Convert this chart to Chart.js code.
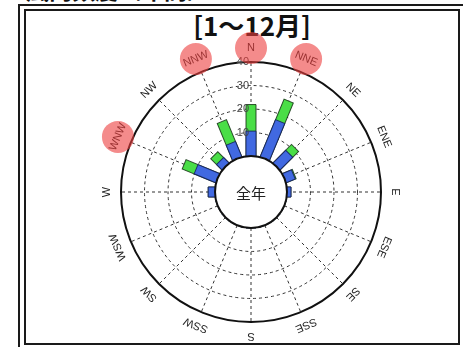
<!DOCTYPE html>
<html lang="ja">
<head>
<meta charset="utf-8">
<script src="https://cdn.jsdelivr.net/npm/chart.js@4/dist/chart.umd.min.js"></script>
<style>
  html, body { margin: 0; padding: 0; background: #fff; }
  body { width: 463px; height: 347px; overflow: hidden; position: relative;
         font-family: "Noto Sans CJK JP", sans-serif; }
  #heading { position: absolute; left: 26px; top: -23px; font-size: 23px; font-weight: bold;
             line-height: 24px; color: #111; white-space: nowrap; }
  #frameOuter { position: absolute; left: 18px; top: 4px; width: 520px; height: 420px;
                border: 2px solid #1a1a1a; }
  #frameInner { position: absolute; left: 24px; top: 9px; width: 436px; height: 336px;
                box-sizing: border-box; border: 2px solid #1a1a1a; }
  #title { position: absolute; left: 252px; top: 9px; transform: translateX(-50%);
           font-size: 26px; font-weight: bold; line-height: 32px; color: #111; white-space: nowrap; }
  #rose { position: absolute; left: 0; top: 0; z-index: 2; }
</style>
</head>
<body>
<div id="heading">風向頻度（年間）</div>
<div id="frameOuter"></div>
<div id="frameInner"></div>
<div id="title">[1～12月]</div>
<canvas id="rose" width="463" height="347"></canvas>
<script>
// 16-point compass, clockwise from north
const directions = ['N', 'NNE', 'NE', 'ENE', 'E', 'ESE', 'SE', 'SSE',
                    'S', 'SSW', 'SW', 'WSW', 'W', 'WNW', 'NW', 'NNW'];
// frequency by direction, inner (blue) and outer (green) segment of each bar
const speedLow  = [10.6, 17.1, 7.7, 4.2, 1.7, 0, 0, 0, 0, 0, 0, 0, 2.9, 10.0, 3.3, 7.1];
const speedHigh = [11.3,  9.5, 3.5, 0.4, 0,   0, 0, 0, 0, 0, 0, 0, 0,    5.5, 3.5, 10.0];
// ring values of the radial axis
const ringTicks = [10, 20, 30, 40];
// compass labels marked with a highlight disc
const highlighted = ['NNW', 'N', 'NNE', 'WNW'];
const hubLabel = '全年';

// cumulative top of each stacked bar
const stackTop = speedLow.map((v, i) => v + speedHigh[i]);

// A straight bar element: a fixed-width rectangle running out from the centre
// along the leading edge of the sector the polar-area controller lays out.
class RoseBar extends Chart.ArcElement {
  static id = 'roseBar';
  static defaults = { barWidth: 10 };
  draw(ctx) {
    const { x, y, startAngle, outerRadius } =
      this.getProps(['x', 'y', 'startAngle', 'outerRadius']);
    const o = this.options;
    if (!(outerRadius > 0)) return;
    const w = o.barWidth;
    ctx.save();
    ctx.translate(x, y);
    ctx.rotate(startAngle);
    ctx.beginPath();
    ctx.rect(0, -w / 2, outerRadius, w);
    ctx.fillStyle = o.backgroundColor;
    ctx.fill();
    if (o.borderWidth) {
      ctx.lineWidth = o.borderWidth;
      ctx.strokeStyle = o.borderColor;
      ctx.stroke();
    }
    ctx.restore();
  }
}
Chart.register(RoseBar);
Chart.defaults.datasets.polarArea.dataElementType = 'roseBar';

const roseDecor = {
  id: 'roseDecor',
  afterDatasetsDraw(chart) {
    const s = chart.scales.r;
    const ctx = chart.ctx;
    const cx = s.xCenter, cy = s.yCenter;
    const r0 = s.getDistanceFromCenterForValue(0);
    ctx.save();
    // hub
    ctx.beginPath();
    ctx.arc(cx, cy, r0, 0, Math.PI * 2);
    ctx.fillStyle = '#fff';
    ctx.fill();
    ctx.lineWidth = 2;
    ctx.strokeStyle = '#111';
    ctx.stroke();
    ctx.fillStyle = '#222';
    ctx.font = '15px "Noto Sans CJK JP", sans-serif';
    ctx.textAlign = 'center';
    ctx.textBaseline = 'middle';
    ctx.fillText(hubLabel, cx, cy + 1);
    // ring values beside the north spoke
    ctx.font = '11px "Liberation Sans", Arial, sans-serif';
    ctx.fillStyle = '#444';
    ctx.textAlign = 'right';
    ringTicks.forEach(v => {
      ctx.fillText(String(v), cx - 2, cy - s.getDistanceFromCenterForValue(v));
    });
    // compass labels, turned with their bearing
    const lr = s.drawingArea + 14;
    ctx.fillStyle = '#222';
    ctx.textAlign = 'center';
    directions.forEach((d, i) => {
      const p = s.getPointPosition(i, lr);
      ctx.save();
      ctx.translate(p.x, p.y);
      ctx.rotate(s.getIndexAngle(i));
      ctx.fillText(d, 0, 0);
      ctx.restore();
    });
    ctx.restore();
  },
  afterDraw(chart) {
    const s = chart.scales.r;
    const ctx = chart.ctx;
    const lr = s.drawingArea + 14;
    ctx.save();
    ctx.fillStyle = 'rgba(236, 62, 62, 0.6)';
    highlighted.forEach(d => {
      const p = s.getPointPosition(directions.indexOf(d), lr);
      ctx.beginPath();
      ctx.arc(p.x, p.y, 16, 0, Math.PI * 2);
      ctx.fill();
    });
    ctx.restore();
  }
};

new Chart(document.getElementById('rose'), {
  type: 'polarArea',
  data: {
    labels: directions,
    datasets: [
      { data: speedLow, backgroundColor: '#4169e1', borderColor: 'rgba(20, 30, 90, 0.85)', borderWidth: 1 },
      { data: stackTop, backgroundColor: '#4ade47', borderColor: 'rgba(20, 50, 20, 0.85)', borderWidth: 1 }
    ]
  },
  options: {
    responsive: false,
    animation: false,
    layout: { padding: { left: 121, right: 82, top: 62, bottom: 25 } },
    plugins: { legend: { display: false }, tooltip: { enabled: false } },
    scales: {
      r: {
        min: -15.3,
        max: 40,
        startAngle: 0,
        afterBuildTicks: (scale) => { scale.ticks = ringTicks.map(v => ({ value: v })); },
        ticks: { display: false },
        pointLabels: { display: false },
        grid: {
          circular: true,
          color: (c) => c.tick && c.tick.value === 40 ? '#111' : '#333',
          lineWidth: (c) => c.tick && c.tick.value === 40 ? 2 : 1
        },
        border: { dash: (c) => c.tick && c.tick.value === 40 ? [] : [3, 3] },
        angleLines: { display: true, color: '#333', lineWidth: 1, borderDash: [3, 3] }
      }
    }
  },
  plugins: [roseDecor]
});
</script>
</body>
</html>
